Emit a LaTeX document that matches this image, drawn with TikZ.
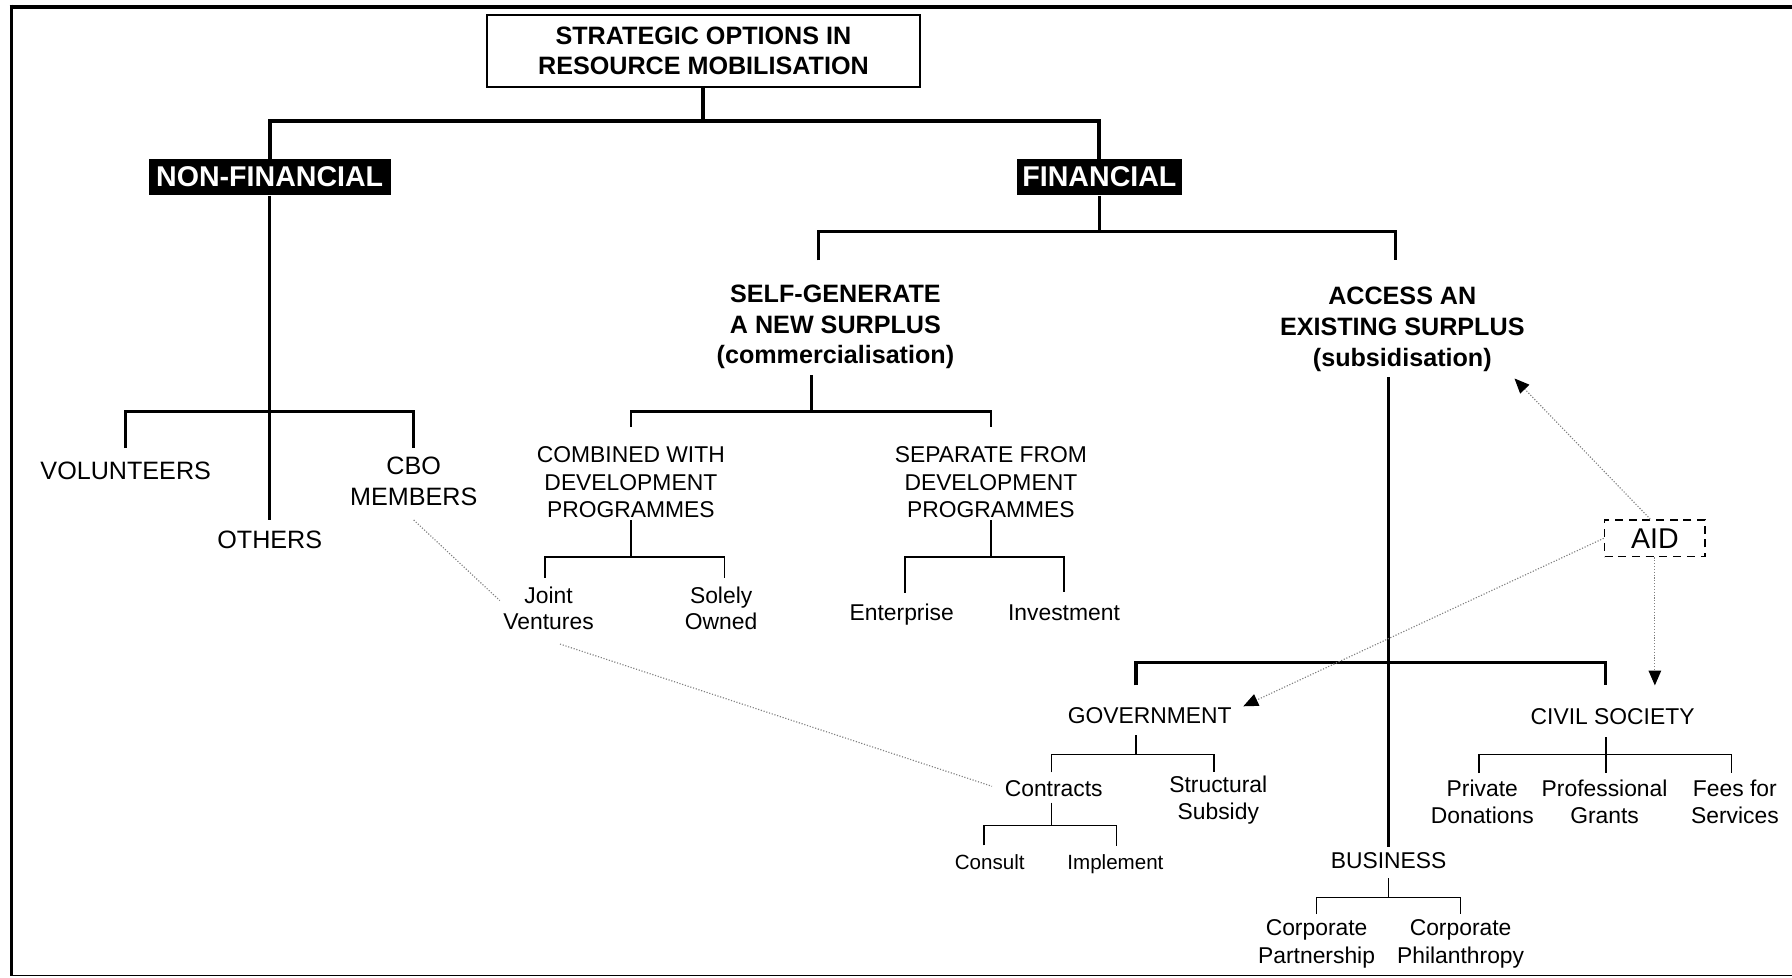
\documentclass[tikz,border=0pt]{standalone}
\usepackage{fontspec}
\setmainfont{Liberation Sans}
\usetikzlibrary{arrows.meta,calc}
\begin{document}
\begin{tikzpicture}[x=1pt,y=-1pt,
  txt/.style={inner sep=0pt,align=center},
  t22/.style={txt,font=\fontsize{22}{27}\selectfont},
  t20/.style={txt,font=\fontsize{20}{24}\selectfont},
  t20b/.style={txt,font=\fontsize{20}{23}\selectfont},
  t18/.style={txt,font=\fontsize{18}{22}\selectfont},
  b22/.style={txt,font=\fontsize{22}{27}\selectfont\bfseries},
  blk/.style={fill=black,text=white,inner sep=0pt,minimum height=32pt,font=\fontsize{25}{30}\selectfont\bfseries},
  lA/.style={line width=3.5pt},
  lAA/.style={line width=3pt},
  lB/.style={line width=2.5pt},
  lC/.style={line width=2pt},
  lD/.style={line width=1.5pt},
  dotln/.style={gray,line width=1pt,dash pattern=on 1pt off 1.5pt},
  arr/.style={dotln,-{Triangle[length=13pt,width=11pt,color=black]}},
]
\useasboundingbox (0,0) rectangle (1568,855);
% frame
\draw[line width=3.5pt] (8.5,6) -- (1568,6);
\draw[line width=3pt] (10,4) -- (10,854);
\draw[line width=1.5pt] (10,853.5) -- (1568,853.5);

% nodes
\node[b22,draw,line width=2.2pt,minimum width=379pt,minimum height=63pt] (title) at (615.5,44.5) {STRATEGIC OPTIONS IN\\RESOURCE MOBILISATION};
\node[blk,minimum width=212pt] (nonfin) at (236,155) {NON-FINANCIAL};
\node[blk,minimum width=144pt] (fin) at (962,155) {FINANCIAL};

\node[t22] (vol) at (110,412) {VOLUNTEERS};
\node[t22] (others) at (236,472) {OTHERS};
\node[t22] (cbo) at (362,421.5) {CBO\\MEMBERS};

\node[b22] (selfgen) at (731,286) {SELF-GENERATE\\A NEW SURPLUS\\(commercialisation)};
\node[b22] (access) at (1227,288) {ACCESS AN\\EXISTING SURPLUS\\(subsidisation)};

\node[t20] (comb) at (552,422) {COMBINED WITH\\DEVELOPMENT\\PROGRAMMES};
\node[t20] (sep) at (867,422) {SEPARATE FROM\\DEVELOPMENT\\PROGRAMMES};
\node[t20b] (jv) at (480,532.5) {Joint\\Ventures};
\node[t20b] (so) at (631,532.5) {Solely\\Owned};
\node[t20] (ent) at (789,538) {Enterprise};
\node[t20] (inv) at (931,536) {Investment};

\node[t20] (gov) at (1006,626) {GOVERNMENT};
\node[t20] (civ) at (1411,627) {CIVIL SOCIETY};
\node[t20] (con) at (922,690) {Contracts};
\node[t20] (str) at (1066,700) {Structural\\Subsidy};
\node[t18] (consult) at (866,754) {Consult};
\node[t18] (impl) at (976,756) {Implement};
\node[t20b] (priv) at (1297,701.5) {Private\\Donations};
\node[t20b] (prof) at (1404,701.5) {Professional\\Grants};
\node[t20b] (fees) at (1518,701.5) {Fees for\\Services};
\node[t20] (bus) at (1215,753) {BUSINESS};
\node[t20] (cp) at (1152,826) {Corporate\\Partnership};
\node[t20] (cph) at (1278,826) {Corporate\\Philanthropy};

\node[draw,line width=1.5pt,dash pattern=on 7pt off 5pt,minimum width=88pt,minimum height=32pt,inner sep=0pt,font=\fontsize{25}{30}\selectfont] (aid) at (1448,471) {AID};

% top level
\draw[lA] (title.south) -- ++(0,30);
\draw[lA] (nonfin.north) -- ++(0,-33) -| (fin.north);

% non-financial
\draw[lB] (nonfin.south) -- ([yshift=9pt]others.north);
\draw[lB] ([yshift=12pt]vol.north) -- ++(0,-32) -| ([yshift=8pt]cbo.north);

% financial
\draw[lB] (fin.south) -- ++(0,31) coordinate (finbar);
\draw[lB] ([xshift=-15pt,yshift=21pt]selfgen.north) |- (finbar) -| ([xshift=-6pt,yshift=23pt]access.north);

% self-generate
\draw[lC] ([xshift=-21pt,yshift=-5pt]selfgen.south) -- ++(0,32) coordinate (sgbar);
\draw[lC] ([yshift=17pt]comb.north) |- (sgbar) -| ([yshift=17pt]sep.north);

\draw[lD] ([yshift=-2pt]comb.south) -- ++(0,32) coordinate (cbbar);
\draw[lD] ([xshift=-3pt,yshift=8pt]jv.north) |- (cbbar) -| ([xshift=3pt,yshift=8pt]so.north);

\draw[lD] ([yshift=-2pt]sep.south) -- ++(0,32) coordinate (spbar);
\draw[lD] ([xshift=3pt,yshift=10pt]ent.north) |- (spbar) -| ([yshift=11pt]inv.north);

% access
\draw[lB] ([xshift=-12pt,yshift=-5pt]access.south) -- ([yshift=5pt]bus.north);
\draw[lAA] ([xshift=-12pt,yshift=19pt]gov.north) -- ++(0,-20) -| ([xshift=-6pt,yshift=20pt]civ.north);

\draw[lD] ([xshift=-12pt,yshift=-10pt]gov.south) -- ++(0,17) coordinate (gvbar);
\draw[lD] ([xshift=-2pt,yshift=7pt]con.north) |- (gvbar) -| ([xshift=-4pt,yshift=3pt]str.north);

\draw[lD] ([xshift=-2pt,yshift=-5pt]con.south) -- ++(0,20) coordinate (cnbar);
\draw[lD] ([xshift=-5pt,yshift=7.5pt]consult.north) |- (cnbar) -| ([xshift=1pt,yshift=7.5pt]impl.north);

\draw[lD] ([xshift=-6pt,yshift=-11pt]civ.south) -- ++(0,15) coordinate (cvbar);
\draw[lD] ([xshift=-3pt,yshift=6pt]priv.north) |- (cvbar) -| ([xshift=-3pt,yshift=6pt]fees.north);
\draw[lD] (cvbar) -- ([xshift=1pt,yshift=6pt]prof.north);

\draw[lD] ([yshift=-8pt]bus.south) -- ++(0,17) coordinate (bsbar);
\draw[lD] ([yshift=5pt]cp.north) |- (bsbar) -| ([yshift=5pt]cph.north);

% AID arrows
\draw[arr] ([xshift=-4pt]aid.north) -- ([xshift=-9pt,yshift=-6pt]access.south east);
\draw[arr] (aid.west) -- ([xshift=10pt,yshift=8pt]gov.east);
\draw[arr] (aid.south) -- ([xshift=37pt,yshift=20pt]civ.north);

% dotted links
\draw[dotln] ([yshift=-12pt]cbo.south) -- ([xshift=-3pt,yshift=7pt]jv.west);
\draw[dotln] ([xshift=10pt,yshift=-12pt]jv.south) -- ([xshift=-11pt,yshift=2pt]con.west);
\end{tikzpicture}
\end{document}
